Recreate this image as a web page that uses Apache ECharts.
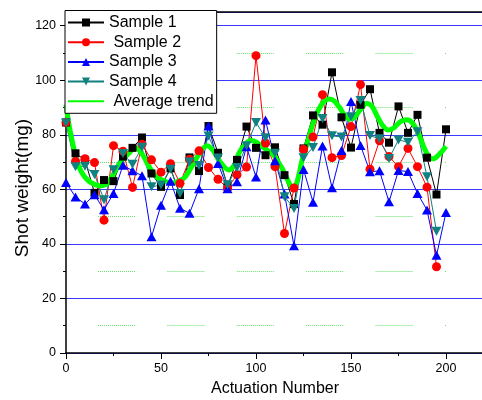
<!DOCTYPE html>
<html><head><meta charset="utf-8">
<script src="https://cdn.jsdelivr.net/npm/echarts@6/dist/echarts.min.js"></script>
<style>html,body{margin:0;padding:0;background:#fff}#c{width:482px;height:400px}</style>
</head><body><div id="c"></div>
<script>
// Actuation numbers
const actuations = [0,5,10,15,20,25,30,35,40,45,50,55,60,65,70,75,80,85,90,95,100,105,110,115,120,125,130,135,140,145,150,155,160,165,170,175,180,185,190,195,200];
const sample1 = [84.5,73.2,70.7,58.7,63.4,63.0,72,75.2,79.0,65.8,60.9,67.7,57.9,71.7,66.7,83.2,73.4,61.0,70.8,83.0,75.2,72.5,75.4,65.2,54.6,75,87.1,83.7,102.9,86.4,75.3,91,96.7,80.7,77.1,90.4,80.7,87.3,71.6,58.1,82.0];
const sample2 = [84.5,70.2,71.2,69.8,48.7,76.0,74,60.7,76.5,70.8,66.3,69.4,62.2,71.0,74.1,68.0,63.7,60.4,65.3,68.2,109.0,77,68.3,43.8,60.5,74.7,79.2,94.7,71.6,72.4,83.0,98.4,67.4,77.8,72.0,68.3,75.0,68.3,60.8,31.6,null];
const sample3 = [62.5,57.2,54.6,58,52.5,58.5,68.8,66.8,65,42.6,54.2,63,53.1,51.2,60.2,83.2,69.5,60.2,62.8,75.6,64.5,85.4,70.5,58.3,39.3,67.3,55.3,75.9,60.6,74.2,92.2,76.1,66.4,66.8,55.4,66.9,66.5,58.5,52.4,35.8,51.5];
const sample4 = [84.3,68.3,68.5,65.4,56.2,67.2,73.1,69.2,75.4,60.9,61.6,67.4,58.5,70,68.7,79.5,71.5,61.7,68.0,76,84.5,78.9,73.2,57.3,53.0,71.6,75.3,86.0,79.6,79.2,86.6,92.6,79.7,78.5,71.3,78.1,77.3,81.1,64.6,44.6,null];
// Average trend curve
const trendX = [0,1.5,3.5,5.5,8,12,18.2,22,26.1,30,33.1,36.6,40,43.6,47,50.6,55.9,60,62.9,68.2,71.5,74.3,77.5,80.4,85.7,88.5,91,94,97.1,100,103.2,106.5,109.3,113.7,117,119,121.5,124.3,127,129.5,131.8,133.9,136,138.3,141,144,146.5,149.2,152,155,158.3,161,164,166.8,169.5,172.5,176,179.5,182.5,185.5,188.5,191,193.3,196,198,200];
const trendY = [91,84,77,71,66.5,63,61.3,62.3,67,71,73.3,75.2,73,68.5,65,63.4,62.2,63.2,64.7,70.8,74.5,76,74.2,70.8,67.1,68.8,73.3,76.3,77.9,77.4,75.7,74,72.6,67.7,63,60.6,62.5,70.8,77,83.1,87.5,90.4,92.3,93.1,92.5,90,87.3,85.8,86.5,89.3,91.5,90.5,86.5,83.3,81.7,82.5,84.8,85.5,84.2,80.5,75.2,72,71.2,72.5,74,75.8];
const xTicksMajor = 50, yTicksMajor = 20;
const names = ['Sample 1',' Sample 2','Sample 3','Sample 4',' Average trend'];

function pairs(xs, ys){ const out=[]; for(let i=0;i<xs.length;i++){ if(ys[i]!=null) out.push([xs[i], ys[i]]);} return out; }

// dotted-segment dash pattern for minor grid lines
const dash = []; for (let i=0;i<18;i++){dash.push(1,1);} dash.push(1,32.4);

const FONT = 'Liberation Sans, Arial, sans-serif';
const chart = echarts.init(document.getElementById('c'), null, {renderer:'canvas'});
const option = {
  animation:false,
  backgroundColor:'#fff',
  textStyle:{fontFamily:FONT},
  grid:[
    {left:66, right:-2, top:12, bottom:47, outerBoundsMode:'none', containLabel:false},
    {left:66, right:36, top:25.64, bottom:47, outerBoundsMode:'none', containLabel:false}
  ],
  xAxis:[
    {gridIndex:0, type:'value', min:0, max:220, interval:xTicksMajor,
     name:'Actuation Number', nameLocation:'middle', nameGap:28, nameMoveOverlap:false,
     nameTextStyle:{fontSize:16, color:'#000', fontFamily:FONT},
     axisLine:{lineStyle:{color:'#000', width:1.5}},
     axisTick:{length:6, lineStyle:{color:'#000'}},
     axisLabel:{fontSize:12.5, color:'#000', margin:9, showMaxLabel:false, fontFamily:FONT},
     splitLine:{show:false}},
    {gridIndex:0, type:'value', position:'top', min:0, max:220,
     axisLine:{show:true, lineStyle:{color:'#000', width:1.5}},
     axisTick:{show:false}, axisLabel:{show:false}, splitLine:{show:false}},
    {gridIndex:1, type:'value', min:0, max:200, interval:xTicksMajor,
     axisLine:{show:false}, axisTick:{show:false}, axisLabel:{show:false}, splitLine:{show:false},
     minorTick:{show:true, splitNumber:2, length:3, lineStyle:{color:'#000'}}}
  ],
  yAxis:[
    {gridIndex:0, type:'value', min:0, max:125, interval:yTicksMajor,
     name:'Shot weight(mg)', nameLocation:'middle', nameGap:34, nameMoveOverlap:false,
     nameTextStyle:{fontSize:19, color:'#000', fontFamily:FONT, padding:[0,11,0,0]},
     axisLine:{show:true, lineStyle:{color:'#000', width:1.5}},
     axisTick:{show:true, length:6, lineStyle:{color:'#000'}},
     axisLabel:{fontSize:12.5, color:'#000', margin:10, showMaxLabel:false, fontFamily:FONT},
     splitLine:{show:true, lineStyle:{color:'#3a3aff', width:1}}},
    {gridIndex:1, type:'value', min:0, max:120, interval:yTicksMajor,
     axisLine:{show:false}, axisTick:{show:false}, axisLabel:{show:false}, splitLine:{show:false},
     minorTick:{show:true, splitNumber:2, length:3, lineStyle:{color:'#000'}},
     minorSplitLine:{show:true, lineStyle:{color:'#66e066', width:1, type:dash, dashOffset:37.4}}}
  ],
  legend:{
    orient:'vertical', left:65, top:10.5, align:'left',
    padding:[4,3,4,2], itemGap:3.7, itemWidth:36, itemHeight:10,
    backgroundColor:'#fff', borderColor:'#000', borderWidth:1, borderRadius:0,
    textStyle:{fontSize:16, color:'#000', lineHeight:16, fontFamily:FONT},
    data:[names[0],names[1],names[2],names[3],{name:names[4], itemStyle:{opacity:0}}]
  },
  series:[
    {name:names[0], type:'line', xAxisIndex:0, yAxisIndex:0, data:pairs(actuations,sample1),
     symbol:'rect', symbolSize:8, color:'#000', itemStyle:{color:'#000'}, lineStyle:{color:'#000', width:1}},
    {name:names[1], type:'line', xAxisIndex:0, yAxisIndex:0, data:pairs(actuations,sample2),
     symbol:'circle', symbolSize:9, color:'#ff0000', itemStyle:{color:'#ff0000'}, lineStyle:{color:'#ff0000', width:1}},
    {name:names[2], type:'line', xAxisIndex:0, yAxisIndex:0, data:pairs(actuations,sample3),
     symbol:'triangle', symbolSize:[10,9], color:'#0000ff', itemStyle:{color:'#0000ff'}, lineStyle:{color:'#0000ff', width:1}},
    {name:names[3], type:'line', xAxisIndex:0, yAxisIndex:0, data:pairs(actuations,sample4),
     symbol:'triangle', symbolRotate:180, symbolSize:[10,9], color:'#108080', itemStyle:{color:'#108080'}, lineStyle:{color:'#108080', width:1}},
    {name:names[4], type:'line', xAxisIndex:0, yAxisIndex:0, data:pairs(trendX,trendY),
     symbol:'none', smooth:0.3, color:'#00ff00', itemStyle:{color:'#00ff00'}, lineStyle:{color:'#00ff00', width:5}}
  ]
};
chart.setOption(option);
</script></body></html>
